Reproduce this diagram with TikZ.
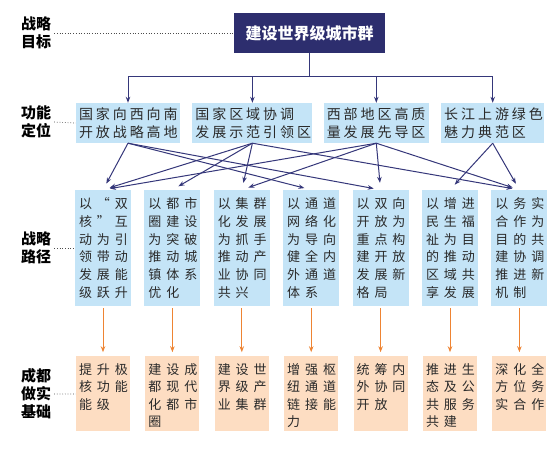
\documentclass[tikz,border=0pt]{standalone}
\usepackage{fontspec}
\usetikzlibrary{arrows.meta,positioning}
\setmainfont{Noto Sans CJK SC}
\newfontfamily\rolefont[LetterSpace=21]{Noto Sans CJK SC}
\newfontfamily\pathfont[LetterSpace=38]{Noto Sans CJK SC}
\definecolor{goalnavy}{HTML}{2D2E6E}
\definecolor{linknavy}{HTML}{35377A}
\definecolor{roleblue}{HTML}{C4E4F7}
\definecolor{basepeach}{HTML}{FDDDC2}
\definecolor{feedorange}{HTML}{EE8433}
\definecolor{inkgray}{HTML}{2A2A2A}

\begin{document}
\begin{tikzpicture}[
  x=1pt,y=-1pt,
  >={Stealth[length=6pt,width=4.5pt]},
  every node/.style={text=inkgray},
  tierlabel/.style={font=\bfseries\fontsize{15}{18}\selectfont,align=center,text=black,inner sep=2pt},
  goalbox/.style={fill=goalnavy,text=white,font=\bfseries\fontsize{16}{18}\selectfont,minimum width=151pt,minimum height=40pt},
  rolebox/.style={fill=roleblue,font=\rolefont\fontsize{14}{18}\selectfont,align=left,minimum height=40pt,inner xsep=3pt,inner ysep=2pt},
  pathbox/.style={fill=roleblue,font=\pathfont\fontsize{13}{17.7}\selectfont,text width=48pt,align=left,minimum height=116pt,inner xsep=4pt,inner ysep=0pt},
  basebox/.style={fill=basepeach,font=\pathfont\fontsize{13}{17.4}\selectfont,inner sep=0pt,minimum width=54pt,minimum height=75pt,
    execute at begin node={\begin{minipage}[t][61pt][t]{48pt}},execute at end node={\end{minipage}}},
  trunk/.style={linknavy,line width=1pt},
  relay/.style={linknavy,line width=1pt,->,shorten >=7pt},
  feed/.style={feedorange,line width=1pt,->,shorten <=2pt,shorten >=4pt},
  leader/.style={dotted,line width=0.7pt,black!70,shorten <=1pt}
]
  \fill[white] (0,0) rectangle (560,453);
  \useasboundingbox (0,0) rectangle (560,453);

  % tier labels
  \node[tierlabel] (goaltag) at (36,33) {战略\\目标};
  \node[tierlabel] (roletag) at (36,122) {功能\\定位};
  \node[tierlabel] (pathtag) at (36,248) {战略\\路径};
  \node[tierlabel] (basetag) at (36,394) {成都\\做实\\基础};

  % goal
  \node[goalbox] (goal) at (309.5,33) {建设世界级城市群};

  % functional roles
  \node[rolebox,text width=98pt] (f1) at (128,123) {国家向西向南\\开放战略高地};
  \node[rolebox,text width=114pt,right=12pt of f1] (f2) {国家区域协调\\发展示范引领区};
  \node[rolebox,text width=99pt,right=11pt of f2] (f3) {西部地区高质\\量发展先导区};
  \node[rolebox,text width=97pt,right=12pt of f3] (f4) {长江上游绿色\\魅力典范区};

  % strategic paths
  \node[pathbox] (s1) at (103,248) {以“双\\核”互\\动为引\\领带动\\发展能\\级跃升};
  \node[pathbox,right=13pt of s1] (s2) {以都市\\圈建设\\为突破\\推动城\\镇体系\\优化};
  \node[pathbox,right=13pt of s2] (s3) {以集群\\化发展\\为抓手\\推动产\\业协同\\共兴};
  \node[pathbox,right=13pt of s3] (s4) {以通道\\网络化\\为导向\\健全内\\外通道\\体系};
  \node[pathbox,right=13pt of s4] (s5) {以双向\\开放为\\重点构\\建开放\\发展新\\格局};
  \node[pathbox,right=13pt of s5] (s6) {以增进\\民生福\\祉为目\\的推动\\区域共\\享发展};
  \node[pathbox,right=13pt of s6] (s7) {以务实\\合作为\\目的共\\建协调\\推进新\\机制};

  % Chengdu foundations
  \node[basebox,below=50pt of s1] (b1) {提升极\\核功能\\能级};
  \node[basebox,below=50pt of s2] (b2) {建设成\\都现代\\化都市\\圈};
  \node[basebox,below=50pt of s3] (b3) {建设世\\界级产\\业集群};
  \node[basebox,below=50pt of s4] (b4) {增强枢\\纽通道\\链接能\\力};
  \node[basebox,below=50pt of s5] (b5) {统筹内\\外协同\\开放};
  \node[basebox,below=50pt of s6] (b6) {推进生\\态及公\\共服务\\共建};
  \node[basebox,below=50pt of s7] (b7) {深化全\\方位务\\实合作};

  % leaders
  \draw[leader] (goaltag.east) -- (goal.west);
  \draw[leader] (roletag.east) -- (f1.west);
  \draw[leader] (pathtag.east) -- (s1.west);
  \draw[leader] (basetag.east) -- (b1.west);

  % goal to roles
  \coordinate (hub) at (309.5,76);
  \draw[trunk] (goal.south) -- (hub);
  \draw[trunk] (hub -| f1.north) -- (hub -| f4.north);
  \foreach \i in {1,...,4}
    \draw[trunk,->] (hub -| f\i.north) -- (f\i.north);

  % roles to paths
  \foreach \a/\b in {1/1,1/4,1/5,2/1,2/2,2/3,2/7,3/1,3/3,3/5,3/7,4/6,4/7}
    \draw[relay] (f\a.south) -- (s\b.north);

  % paths to foundations
  \foreach \i in {1,...,7}
    \draw[feed] (s\i.south) -- (b\i.north);
\end{tikzpicture}
\end{document}
